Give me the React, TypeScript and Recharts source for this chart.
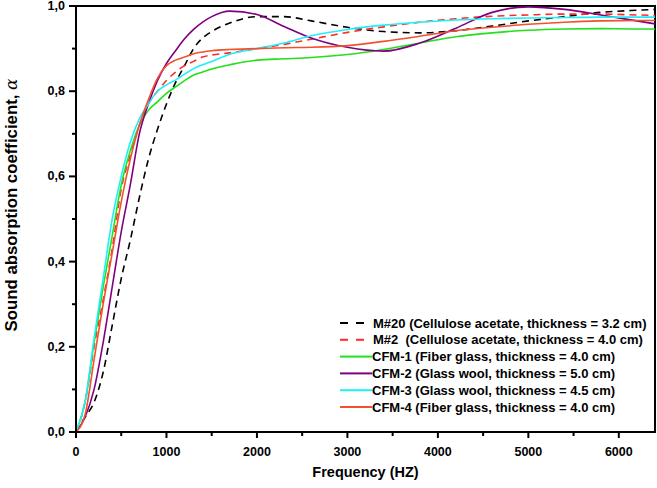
import * as React from "react";
import {
  LineChart,
  Line,
  XAxis,
  YAxis,
  ReferenceArea,
  Legend,
  Label,
} from "recharts";

const frequencies = [
  0, 100, 200, 300, 400, 500, 600, 700, 800, 900, 1000, 1100, 1200, 1300, 1400,
  1500, 1700, 2000, 2300, 2600, 3000, 3400, 3800, 4200, 4600, 5000, 5400, 5800,
  6200, 6400,
];

const m20 = [
  0, 0.035, 0.07, 0.14, 0.25, 0.36, 0.45, 0.55, 0.64, 0.71, 0.77, 0.82, 0.86,
  0.9, 0.925, 0.94, 0.96, 0.975, 0.975, 0.965, 0.95, 0.94, 0.937, 0.942, 0.953,
  0.965, 0.975, 0.985, 0.99, 0.992,
];
const m2 = [
  0, 0.07, 0.2, 0.31, 0.43, 0.57, 0.65, 0.72, 0.77, 0.8, 0.825, 0.845, 0.86,
  0.87, 0.88, 0.885, 0.89, 0.9, 0.91, 0.922, 0.938, 0.951, 0.962, 0.97, 0.976,
  0.979, 0.981, 0.981, 0.979, 0.978,
];
const cfm1 = [
  0, 0.07, 0.21, 0.34, 0.46, 0.58, 0.66, 0.72, 0.755, 0.775, 0.795, 0.81, 0.825,
  0.838, 0.845, 0.852, 0.862, 0.873, 0.876, 0.879, 0.886, 0.898, 0.913, 0.928,
  0.937, 0.943, 0.946, 0.947, 0.946, 0.946,
];
const cfm2 = [
  0, 0.035, 0.1, 0.21, 0.34, 0.47, 0.58, 0.7, 0.77, 0.825, 0.865, 0.895, 0.923,
  0.945, 0.962, 0.975, 0.988, 0.98, 0.952, 0.925, 0.903, 0.894, 0.913, 0.948,
  0.985, 0.998, 0.992, 0.979, 0.965, 0.958,
];
const cfm3 = [
  0, 0.07, 0.22, 0.36, 0.5, 0.6, 0.68, 0.735, 0.77, 0.8, 0.815, 0.826, 0.84,
  0.853, 0.862, 0.87, 0.887, 0.9, 0.913, 0.93, 0.945, 0.955, 0.962, 0.967, 0.97,
  0.972, 0.973, 0.974, 0.974, 0.974,
];
const cfm4 = [
  0, 0.04, 0.17, 0.3, 0.42, 0.54, 0.64, 0.72, 0.78, 0.83, 0.86, 0.873, 0.88,
  0.888, 0.892, 0.895, 0.898, 0.9, 0.902, 0.903, 0.907, 0.917, 0.929, 0.942,
  0.95, 0.957, 0.962, 0.965, 0.966, 0.966,
];

const xTicks = [
  0, 500, 1000, 1500, 2000, 2500, 3000, 3500, 4000, 4500, 5000, 5500, 6000,
];
const yTicks = [0, 0.1, 0.2, 0.3, 0.4, 0.5, 0.6, 0.7, 0.8, 0.9, 1.0];

const series = [
  { key: "m20", name: "M#20 (Cellulose acetate, thickness = 3.2 cm)", color: "#000000", dash: "7 5" },
  { key: "m2", name: "M#2  (Cellulose acetate, thickness = 4.0 cm)", color: "#ff2a2a", dash: "7 5" },
  { key: "cfm1", name: "CFM-1 (Fiber glass, thickness = 4.0 cm)", color: "#22e01a", dash: "" },
  { key: "cfm2", name: "CFM-2 (Glass wool, thickness = 5.0 cm)", color: "#800080", dash: "" },
  { key: "cfm3", name: "CFM-3 (Glass wool, thickness = 4.5 cm)", color: "#1ef0f8", dash: "" },
  { key: "cfm4", name: "CFM-4 (Fiber glass, thickness = 4.0 cm)", color: "#f2512f", dash: "" },
];

const rows = frequencies.map((f, i) => ({
  f,
  m20: m20[i],
  m2: m2[i],
  cfm1: cfm1[i],
  cfm2: cfm2[i],
  cfm3: cfm3[i],
  cfm4: cfm4[i],
}));

const FONT = "'Liberation Sans', Arial, sans-serif";

function XTick(props: any) {
  const { x, y, payload } = props;
  const major = payload.value % 1000 === 0;
  return (
    <g>
      <line x1={x} y1={y} x2={x} y2={y + (major ? 6 : 4)} stroke="#000" strokeWidth={2} />
      {major && (
        <text x={x} y={y + 24} textAnchor="middle" fontFamily={FONT} fontSize={12.5} fontWeight="bold" fill="#000">
          {payload.value}
        </text>
      )}
    </g>
  );
}

function YTick(props: any) {
  const { x, y, payload } = props;
  const major = Math.round(payload.value * 10) % 2 === 0;
  return (
    <g>
      <line x1={x - (major ? 7 : 4)} y1={y} x2={x} y2={y} stroke="#000" strokeWidth={2} />
      {major && (
        <text x={x - 11} y={y + 4} textAnchor="end" fontFamily={FONT} fontSize={12.5} fontWeight="bold" fill="#000">
          {payload.value.toFixed(1).replace(".", ",")}
        </text>
      )}
    </g>
  );
}

function LegendBox() {
  return (
    <svg width={320} height={110}>
      {series.map((s, i) => {
        const cy = 10 + i * 16.8;
        return (
          <g key={s.key}>
            {s.dash ? (
              <>
                <line x1={4} y1={cy} x2={12} y2={cy} stroke={s.color} strokeWidth={2} />
                <line x1={20} y1={cy} x2={28} y2={cy} stroke={s.color} strokeWidth={2} />
              </>
            ) : (
              <line x1={4} y1={cy} x2={36} y2={cy} stroke={s.color} strokeWidth={2} />
            )}
            <text
              x={s.dash ? 37 : 36}
              y={cy + 4.5}
              fontFamily={FONT}
              fontSize={13}
              fontWeight="bold"
              fill="#000"
              style={{ whiteSpace: "pre" }}
            >
              {s.name}
            </text>
          </g>
        );
      })}
    </svg>
  );
}

export default function App() {
  return (
    <div style={{ position: "absolute", left: 0, top: 0, background: "#fff" }}>
      <LineChart
        width={657}
        height={488}
        data={rows}
        margin={{ top: 6, right: 2, bottom: 0, left: 0 }}
      >
        <XAxis
          dataKey="f"
          type="number"
          domain={[0, 6400]}
          ticks={xTicks}
          interval={0}
          tickSize={0}
          tickMargin={0}
          tickLine={false}
          tick={<XTick />}
          height={56}
          axisLine={{ stroke: "#000", strokeWidth: 2 }}
        >
          <Label
            value="Frequency (HZ)"
            position="insideBottom"
            offset={11}
            style={{ fontFamily: FONT, fontSize: 14.5, fontWeight: "bold", fill: "#000" }}
          />
        </XAxis>
        <YAxis
          type="number"
          domain={[0, 1]}
          ticks={yTicks}
          interval={0}
          tickSize={0}
          tickMargin={0}
          tickLine={false}
          tick={<YTick />}
          width={76}
          axisLine={{ stroke: "#000", strokeWidth: 2 }}
        >
          <Label
            content={(p: any) => {
              const vb = p.viewBox || {};
              const cx = 11;
              const cy = vb.y + vb.height / 2 - 14;
              return (
                <text
                  x={cx}
                  y={cy}
                  transform={`rotate(-90 ${cx} ${cy})`}
                  textAnchor="middle"
                  dominantBaseline="central"
                  fontFamily={FONT}
                  fontSize={16.8}
                  fontWeight="bold"
                  fill="#000"
                >
                  Sound absorption coefficient,{" "}
                  <tspan fontStyle="italic" fontWeight="normal" fontFamily="'DejaVu Serif', serif">
                    α
                  </tspan>
                </text>
              );
            }}
          />
        </YAxis>
        <ReferenceArea
          x1={0}
          x2={6400}
          y1={0}
          y2={1}
          fill="none"
          stroke="#000"
          strokeWidth={2}
          ifOverflow="visible"
        />
        {series.map((s) => (
          <Line
            key={s.key}
            dataKey={s.key}
            name={s.name}
            type="monotone"
            stroke={s.color}
            strokeWidth={1.6}
            strokeDasharray={s.dash || undefined}
            dot={false}
            activeDot={false}
            isAnimationActive={false}
          />
        ))}
        <Legend
          layout="vertical"
          align="center"
          verticalAlign="middle"
          content={() => <LegendBox />}
          wrapperStyle={{ position: "absolute", left: 336, top: 313, width: 320, height: 110 }}
        />
      </LineChart>
    </div>
  );
}
